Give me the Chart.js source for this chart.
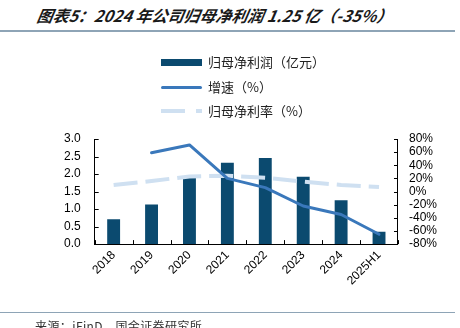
<!DOCTYPE html>
<html>
<head>
<meta charset="utf-8">
<script src="https://cdn.jsdelivr.net/npm/chart.js@4/dist/chart.umd.min.js"></script>
<style>
  html, body { margin: 0; padding: 0; background: #fff; }
  #wrap { position: relative; width: 460px; height: 328px; overflow: hidden; background: #fff; }
  #chartBox { position: absolute; left: 0; top: 0; width: 460px; height: 328px; }
  .title { position: absolute; left: 35px; top: 3px; font-family: "Noto Sans CJK SC", "Liberation Sans", sans-serif; font-size: 16px; font-weight: bold; font-style: italic; color: #1a1a1a; white-space: nowrap; transform: skewX(-10deg); transform-origin: left bottom; }
  .rule { position: absolute; left: 0; width: 455px; height: 1.5px; background: #8ea4b6; }
  .source { position: absolute; left: 35px; top: 317px; font-family: "Noto Sans CJK SC", sans-serif; font-size: 12px; letter-spacing: 0.4px; color: #333; white-space: nowrap; }
  .leg { position: absolute; left: 161px; font-family: "Noto Sans CJK SC", sans-serif; font-size: 13px; color: #222; white-space: nowrap; height: 20px; line-height: 20px; }
  .leg .mk { position: absolute; left: 0; width: 41px; }
  .leg .tx { position: absolute; left: 47px; top: 0; }
</style>
</head>
<body>
<div id="wrap">
  <div class="title">图表5：2024 年公司归母净利润 1.25 亿（-35%）</div>
  <div class="rule" style="top:30px"></div>
  <div id="chartBox"><canvas id="c" width="460" height="328"></canvas></div>
  <div class="leg" style="top:52px"><div class="mk" style="top:6.5px;height:7px;background:#0b4a6f"></div><span class="tx">归母净利润（亿元）</span></div>
  <div class="leg" style="top:77px"><div class="mk" style="top:8.5px;height:3px;border-radius:2px;background:#3a78bb"></div><span class="tx">增速（%）</span></div>
  <div class="leg" style="top:101px"><svg class="mk" style="top:8px" width="41" height="4"><line x1="0" y1="2" x2="41" y2="2" stroke="#cfe0f1" stroke-width="4" stroke-dasharray="24 11"/></svg><span class="tx">归母净利率（%）</span></div>
  <div class="rule" style="top:311.5px"></div>
  <div class="source">来源：iFinD，国金证券研究所</div>
</div>
<script>
const categories = ["2018", "2019", "2020", "2021", "2022", "2023", "2024", "2025H1"];
const netProfit = [0.71, 1.13, 1.93, 2.32, 2.46, 1.92, 1.25, 0.35];
const growthPct = [null, 59, 71, 20, 6, -22, -35, -65];
const marginPct = [10, 16, 23, 24, 21, 15, 10, 7];

const innerTicks = {
  id: 'innerTicks',
  afterDraw(chart) {
    const ctx = chart.ctx;
    const ca = chart.chartArea;
    const x = chart.scales.x, y = chart.scales.y, y1 = chart.scales.y1;
    ctx.save();
    ctx.strokeStyle = '#000';
    ctx.lineWidth = 1;
    ctx.beginPath();
    y.ticks.forEach(t => {
      const py = Math.round(y.getPixelForValue(t.value)) + 0.5;
      ctx.moveTo(ca.left, py); ctx.lineTo(ca.left + 4, py);
    });
    y1.ticks.forEach(t => {
      const py = Math.round(y1.getPixelForValue(t.value)) + 0.5;
      ctx.moveTo(ca.right, py); ctx.lineTo(ca.right - 4, py);
    });
    for (let i = 0; i <= categories.length; i++) {
      let px;
      if (i === 0) px = ca.left;
      else if (i === categories.length) px = ca.right;
      else px = (x.getPixelForValue(i - 1) + x.getPixelForValue(i)) / 2;
      px = Math.round(px) + 0.5;
      ctx.moveTo(px, ca.bottom); ctx.lineTo(px, ca.bottom - 4);
    }
    ctx.stroke();
    ctx.restore();
  }
};

const tickFont = { family: '"Liberation Sans", Arial, sans-serif', size: 12 };

new Chart(document.getElementById('c'), {
  type: 'bar',
  data: {
    labels: categories,
    datasets: [
      {
        type: 'line', label: '增速（%）', data: growthPct, yAxisID: 'y1',
        borderColor: '#3a78bb', borderWidth: 3, pointRadius: 0, tension: 0,
        spanGaps: false, order: 1, borderCapStyle: 'round', borderJoinStyle: 'round'
      },
      {
        type: 'line', label: '归母净利率（%）', data: marginPct, yAxisID: 'y1',
        borderColor: '#cfe0f1', borderWidth: 4, borderDash: [24, 8], pointRadius: 0,
        tension: 0, order: 2
      },
      {
        type: 'bar', label: '归母净利润（亿元）', data: netProfit, yAxisID: 'y',
        backgroundColor: '#0b4a6f', barPercentage: 0.34, categoryPercentage: 1.0, order: 3
      }
    ]
  },
  options: {
    responsive: false,
    animation: false,
    layout: { padding: { top: 139, left: 50, right: 12, bottom: 36 } },
    plugins: { legend: { display: false }, tooltip: { enabled: false } },
    scales: {
      x: {
        grid: { display: false, drawTicks: false },
        border: { display: true, color: '#000', width: 1 },
        ticks: { color: '#000', font: tickFont, minRotation: 45, maxRotation: 45, padding: 4, autoSkip: false }
      },
      y: {
        position: 'left', min: 0, max: 3,
        grid: { display: false, drawTicks: false },
        border: { display: true, color: '#000', width: 1 },
        ticks: { stepSize: 0.5, autoSkip: false, color: '#000', font: tickFont, padding: 14, callback: v => Number(v).toFixed(1) }
      },
      y1: {
        position: 'right', min: -80, max: 80,
        grid: { display: false, drawTicks: false },
        border: { display: true, color: '#000', width: 1 },
        ticks: { stepSize: 20, autoSkip: false, color: '#000', font: tickFont, padding: 11, callback: v => v + '%' }
      }
    }
  },
  plugins: [innerTicks]
});
</script>
</body>
</html>
